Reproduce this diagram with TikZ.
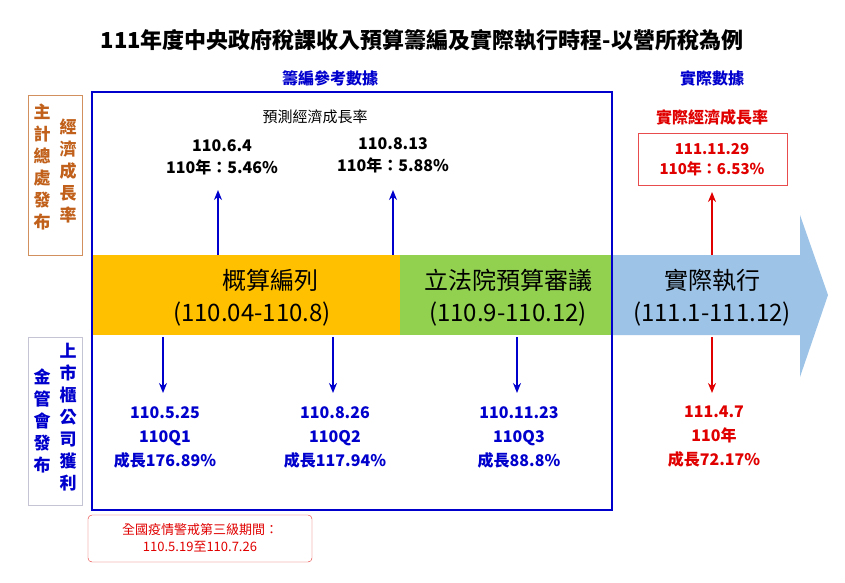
\documentclass[tikz,border=0pt]{standalone}
\usepackage{fontspec}
\setmainfont{Noto Sans CJK TC}
\usepackage{tikz}
\usetikzlibrary{positioning,arrows.meta}
\definecolor{govblue}{HTML}{0000CC}
\definecolor{govred}{HTML}{E00000}
\definecolor{brownish}{HTML}{C0601A}
\definecolor{bandA}{HTML}{FFC000}
\definecolor{bandB}{HTML}{92D050}
\definecolor{bandC}{HTML}{9DC3E6}
\begin{document}
\begin{tikzpicture}[x=1pt, y=-1pt, thick,
    lbl/.style={font=\fontsize{16}{18}\selectfont\bfseries, inner sep=0pt},
    big/.style={font=\fontsize{24}{26}\selectfont, inner sep=0pt},
    up/.style={-{Stealth[length=10pt,width=8pt]}, line width=1.8pt},
    vert/.style={align=center, font=\fontsize{17}{22}\selectfont\bfseries, inner sep=0pt}]
    \useasboundingbox (0,0) rectangle (845,582);

    % Title and headers
    \node[font=\fontsize{22}{24}\selectfont\bfseries] (title) at (422,40) {111年度中央政府稅課收入預算籌編及實際執行時程-以營所稅為例};
    \node[lbl, govblue] (hdrA) at (330,78) {籌編參考數據};
    \node[lbl, govblue] (hdrB) at (712,78) {實際數據};

    % Side boxes
    \draw[brownish!70, thin] (28,95) rectangle (82,255);
    \node[vert, brownish, anchor=north] (dgbas) at (42,103) {主\\計\\總\\處\\發\\布};
    \node[vert, brownish, anchor=north] (gdp) at (68,118) {經\\濟\\成\\長\\率};
    \draw[blue!15!gray!40, thin] (28,337) rectangle (82,505);
    \node[vert, govblue, anchor=north] (fsc) at (42,368) {金\\管\\會\\發\\布};
    \node[vert, govblue, anchor=north] (listed) at (68,343) {上\\市\\櫃\\公\\司\\獲\\利};

    % Time bands
    \fill[bandC] (612,255) -- (800,255) -- (800,215) -- (828,295) -- (800,377) -- (800,335) -- (612,335) -- cycle;
    \fill[bandA] (92,255) rectangle (400,335);
    \fill[bandB] (400,255) rectangle (612,335);
    \draw[govblue, line width=2pt] (92,92) rectangle (612,510);
    \node[big] (budA) at (270,280) {概算編列};
    \node[big] (budAd) at (252,314) {(110.04-110.8)};
    \node[big] (budB) at (508,280) {立法院預算審議};
    \node[big] (budBd) at (508,314) {(110.9-110.12)};
    \node[big] (budC) at (712,280) {實際執行};
    \node[big] (budCd) at (712,314) {(111.1-111.12)};

    % Forecast growth
    \node[lbl, font=\fontsize{15}{17}\selectfont] (fc) at (315,117) {預測經濟成長率};
    \node[lbl, align=center] (fc1) at (222,157) {110.6.4\\[4pt]110年：5.46\%};
    \node[lbl, align=center] (fc2) at (393,155) {110.8.13\\[4pt]110年：5.88\%};
    \node[lbl, govred] (act) at (712,117) {實際經濟成長率};
    \draw[govred!70, thin] (638,133) rectangle (787,185);
    \node[lbl, govred, align=center, font=\fontsize{15}{17}\selectfont\bfseries] (act1) at (712,160) {111.11.29\\[3pt]110年：6.53\%};
    \coordinate (a1) at (218,255);
    \coordinate (a2) at (393,255);
    \coordinate (a3) at (712,255);
    \draw[up, govblue] (a1) -- (218,190);
    \draw[up, govblue] (a2) -- (393,190);
    \draw[up, govred] (a3) -- (712,192);

    % Profits
    \foreach \x/\d/\q/\g/\c in {163/110.5.25/110Q1/176.89/govblue, 333/110.8.26/110Q2/117.94/govblue, 517/110.11.23/110Q3/88.8/govblue, 712/111.4.7/110年/72.17/govred}{
      \coordinate (d\x) at (\x,337);
      \draw[up, \c] (d\x) -- (\x,393);
      \node[lbl, \c, align=center] (p\x) at (\x+2,437) {\d\\[6pt]\q\\[6pt]成長\g\%};
    }

    % Note
    \draw[govred!80, thin, rounded corners=4pt] (88,515) rectangle (312,562);
    \node[govred, align=center, font=\fontsize{13}{17}\selectfont, inner sep=0pt] (note) at (200,538) {全國疫情警戒第三級期間：\\110.5.19至110.7.26};
\end{tikzpicture}
\end{document}
